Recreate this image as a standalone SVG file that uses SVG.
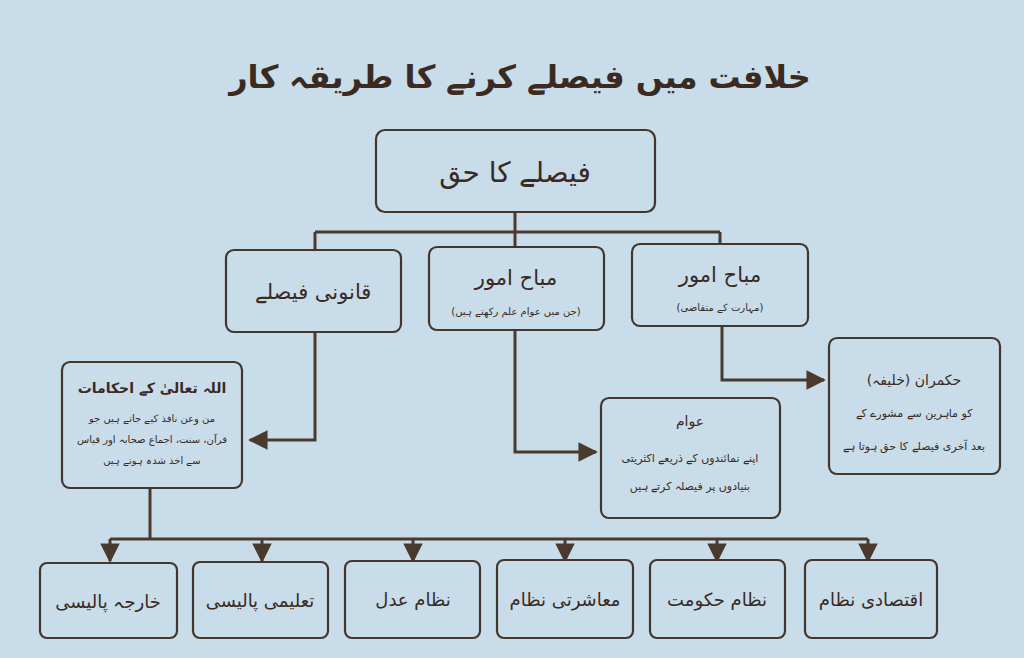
<svg xmlns="http://www.w3.org/2000/svg" width="1024" height="658" viewBox="0 0 1024 658">
<defs>
<style>
.bg{fill:#c8dcea}
.box{fill:#c8dcea;stroke:#43362d;stroke-width:2.2}
.t{font-family:"DejaVu Sans","Noto Sans",sans-serif;fill:#3a2a21;text-anchor:middle;direction:rtl}
.ln{fill:none;stroke:#4a3a2e;stroke-width:3}
</style>
<marker id="ah" viewBox="0 0 10 10" refX="9" refY="5" markerWidth="6.5" markerHeight="6.5" orient="auto" markerUnits="strokeWidth">
<path d="M0,0 L10,5 L0,10 z" fill="#4a3a2e"/>
</marker>
</defs>
<rect class="bg" x="0" y="0" width="1024" height="658"/>
<text class="t" x="520" y="88" font-size="32" font-weight="bold">خلافت میں فیصلے کرنے کا طریقہ کار</text>

<g id="connectors">
<path class="ln" d="M515,212 V232 M315,232 H720 M315,232 V250 M515,232 V247 M720,232 V244"/>
<path class="ln" d="M315,332 V440 H250" marker-end="url(#ah)"/>
<path class="ln" d="M515,330 V452 H596" marker-end="url(#ah)"/>
<path class="ln" d="M722,326 V380 H824" marker-end="url(#ah)"/>
<path class="ln" d="M150,488 V539 M110,539 H868"/>
<path class="ln" d="M110,539 V561" marker-end="url(#ah)"/>
<path class="ln" d="M262,539 V561" marker-end="url(#ah)"/>
<path class="ln" d="M413,539 V561" marker-end="url(#ah)"/>
<path class="ln" d="M565,539 V561" marker-end="url(#ah)"/>
<path class="ln" d="M717,539 V561" marker-end="url(#ah)"/>
<path class="ln" d="M868,539 V561" marker-end="url(#ah)"/>
</g>

<g id="n-top">
<rect class="box" x="376" y="130" width="279" height="82" rx="9"/>
<text class="t" x="515" y="182" font-size="28">فیصلے کا حق</text>
</g>
<g id="n-qanooni">
<rect class="box" x="226" y="250" width="175" height="82" rx="8"/>
<text class="t" x="313" y="299" font-size="21">قانونی فیصلے</text>
</g>
<g id="n-mubah1">
<rect class="box" x="429" y="247" width="175" height="83" rx="8"/>
<text class="t" x="516" y="285" font-size="21">مباح امور</text>
<text class="t" x="516" y="315" font-size="10">(جن میں عوام علم رکھتے ہیں)</text>
</g>
<g id="n-mubah2">
<rect class="box" x="632" y="244" width="176" height="82" rx="8"/>
<text class="t" x="720" y="282" font-size="21">مباح امور</text>
<text class="t" x="720" y="311" font-size="10">(مہارت کے متقاضی)</text>
</g>
<g id="n-ahkam">
<rect class="box" x="62" y="362" width="180" height="126" rx="8"/>
<text class="t" x="152" y="393" font-size="14" font-weight="bold">اللہ تعالیٰ کے احکامات</text>
<text class="t" x="152" y="422" font-size="10">من وعن نافذ کیے جاتے ہیں جو</text>
<text class="t" x="152" y="443" font-size="10">قرآن، سنت، اجماع صحابہ اور قیاس</text>
<text class="t" x="152" y="464" font-size="10">سے اخذ شدہ ہوتے ہیں</text>
</g>
<g id="n-awam">
<rect class="box" x="601" y="398" width="179" height="120" rx="8"/>
<text class="t" x="690" y="426" font-size="14">عوام</text>
<text class="t" x="690" y="462" font-size="11">اپنے نمائندوں کے ذریعے اکثریتی</text>
<text class="t" x="690" y="490" font-size="11">بنیادوں پر فیصلہ کرتے ہیں</text>
</g>
<g id="n-hukmran">
<rect class="box" x="829" y="338" width="171" height="136" rx="8"/>
<text class="t" x="914" y="385" font-size="14">حکمران (خلیفہ)</text>
<text class="t" x="914" y="417" font-size="11">کو ماہرین سے مشورے کے</text>
<text class="t" x="914" y="450" font-size="11">بعد آخری فیصلے کا حق ہوتا ہے</text>
</g>
<g id="n-kharja">
<rect class="box" x="40" y="563" width="137" height="75" rx="7"/>
<text class="t" x="108" y="608" font-size="18">خارجہ پالیسی</text>
</g>
<g id="n-taleemi">
<rect class="box" x="193" y="562" width="135" height="76" rx="7"/>
<text class="t" x="260" y="607" font-size="18">تعلیمی پالیسی</text>
</g>
<g id="n-adl">
<rect class="box" x="345" y="561" width="135" height="77" rx="7"/>
<text class="t" x="413" y="606" font-size="18">نظام عدل</text>
</g>
<g id="n-muashrati">
<rect class="box" x="497" y="560" width="136" height="78" rx="7"/>
<text class="t" x="565" y="606" font-size="18">معاشرتی نظام</text>
</g>
<g id="n-hukumat">
<rect class="box" x="650" y="560" width="135" height="78" rx="7"/>
<text class="t" x="717" y="606" font-size="18">نظام حکومت</text>
</g>
<g id="n-iqtisadi">
<rect class="box" x="805" y="560" width="132" height="78" rx="7"/>
<text class="t" x="871" y="606" font-size="18">اقتصادی نظام</text>
</g>
</svg>
